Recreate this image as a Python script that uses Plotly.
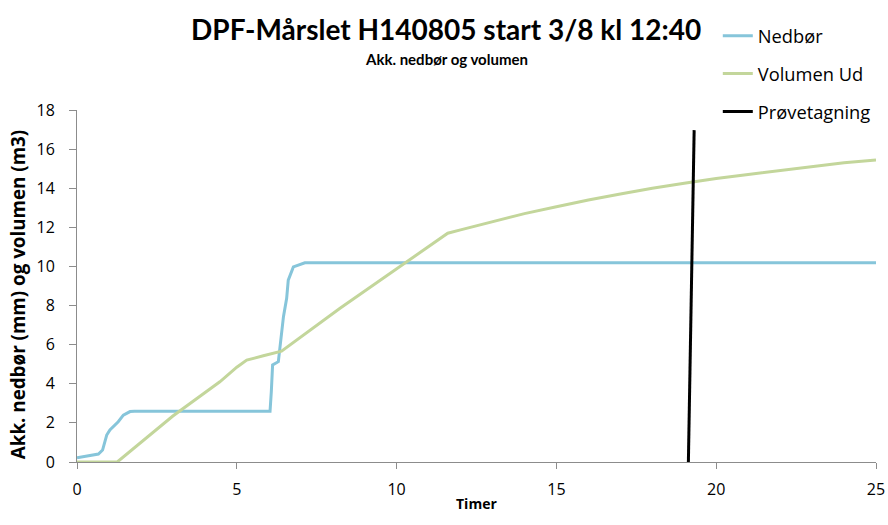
import plotly.graph_objects as go

# Nedbør (accumulated precipitation, mm)
nedbor_t = [0.0, 0.67, 0.80, 0.93, 1.03, 1.29, 1.45, 1.66, 1.8, 3.0, 4.0, 5.0, 6.04,
            6.08, 6.12, 6.30, 6.38, 6.46, 6.56, 6.61, 6.77, 7.13, 10.0, 15.0, 20.0, 25.0]
nedbor_v = [0.22, 0.41, 0.61, 1.38, 1.64, 2.06, 2.40, 2.58, 2.60, 2.60, 2.58, 2.58, 2.60,
            3.6, 4.96, 5.13, 6.24, 7.43, 8.37, 9.30, 9.98, 10.19, 10.19, 10.19, 10.19, 10.19]

# Volumen Ud (accumulated volume, m3)
vol_t = [0.0, 1.26, 3.0, 4.47, 5.0, 5.31, 5.83, 6.4, 8.23, 10.0, 11.6, 12.0, 13.0, 14.0,
         15.0, 16.0, 17.0, 18.0, 19.0, 20.0, 21.0, 22.0, 23.0, 24.0, 25.0]
vol_v = [0.0, 0.0, 2.35, 4.10, 4.85, 5.21, 5.43, 5.67, 7.86, 9.9, 11.7, 11.87, 12.3, 12.7,
         13.05, 13.4, 13.7, 14.0, 14.25, 14.5, 14.7, 14.9, 15.1, 15.3, 15.45]

# Prøvetagning (sampling marker)
prove_t = [19.13, 19.31]
prove_v = [0.0, 16.97]

title_font = "Lato, sans-serif"
body_font = "Open Sans, sans-serif"

fig = go.Figure()
fig.add_trace(go.Scatter(x=nedbor_t, y=nedbor_v, mode="lines", name="Nedbør",
                         legendgroup="a", line=dict(color="#86C5DA", width=3)))
fig.add_trace(go.Scatter(x=vol_t, y=vol_v, mode="lines", name="Volumen Ud",
                         legendgroup="b", line=dict(color="#C3D69B", width=3)))
fig.add_trace(go.Scatter(x=prove_t, y=prove_v, mode="lines", name="Prøvetagning",
                         legendgroup="c", line=dict(color="#000000", width=3)))

fig.update_layout(
    width=888, height=525,
    margin=dict(l=77, r=12, t=110, b=63, autoexpand=False),
    plot_bgcolor="white", paper_bgcolor="white",
    font=dict(family=body_font, color="#000000", size=16),
    showlegend=True,
    legend=dict(x=0.802, y=1.263, xanchor="left", yanchor="top",
                traceorder="grouped", tracegroupgap=11,
                font=dict(size=18.3, family=body_font, color="#000"),
                itemwidth=30, bgcolor="rgba(0,0,0,0)"),
    xaxis=dict(range=[0, 25], tickvals=[0, 5, 10, 15, 20, 25], showgrid=False,
               zeroline=False, showline=True, linecolor="#8c8c8c", linewidth=1,
               ticks="outside", ticklen=6, tickcolor="#8c8c8c",
               ticklabelstandoff=7,
               tickfont=dict(size=16, color="#000"), automargin=False),
    yaxis=dict(range=[0, 18], tickvals=list(range(0, 19, 2)), showgrid=False,
               zeroline=False, showline=True, linecolor="#8c8c8c", linewidth=1,
               ticks="outside", ticklen=7, tickcolor="#8c8c8c",
               ticklabelstandoff=11,
               tickfont=dict(size=16, color="#000"), automargin=False),
)

fig.add_annotation(text="<b>DPF-Mårslet H140805 start 3/8 kl 12:40</b>",
                   xref="paper", yref="paper", x=0.462, y=1.230, xanchor="center",
                   yanchor="middle", showarrow=False,
                   font=dict(size=28, family=title_font))
fig.add_annotation(text="<b>Akk. nedbør og volumen</b>",
                   xref="paper", yref="paper", x=0.462, y=1.145, xanchor="center",
                   yanchor="middle", showarrow=False,
                   font=dict(size=15, family=title_font))
fig.add_annotation(text="<b>Timer</b>",
                   xref="paper", yref="paper", x=0.5, y=-0.1165, xanchor="center",
                   yanchor="middle", showarrow=False, font=dict(size=14))
fig.add_annotation(text="<b>Akk. nedbør (mm) og volumen (m3)</b>", textangle=-90,
                   xref="paper", yref="paper", x=-0.0738, y=0.474, xanchor="center",
                   yanchor="middle", showarrow=False, font=dict(size=18.8))

fig.write_html("out.html", config={"displayModeBar": False},
               post_script="document.body.style.margin='0';")
